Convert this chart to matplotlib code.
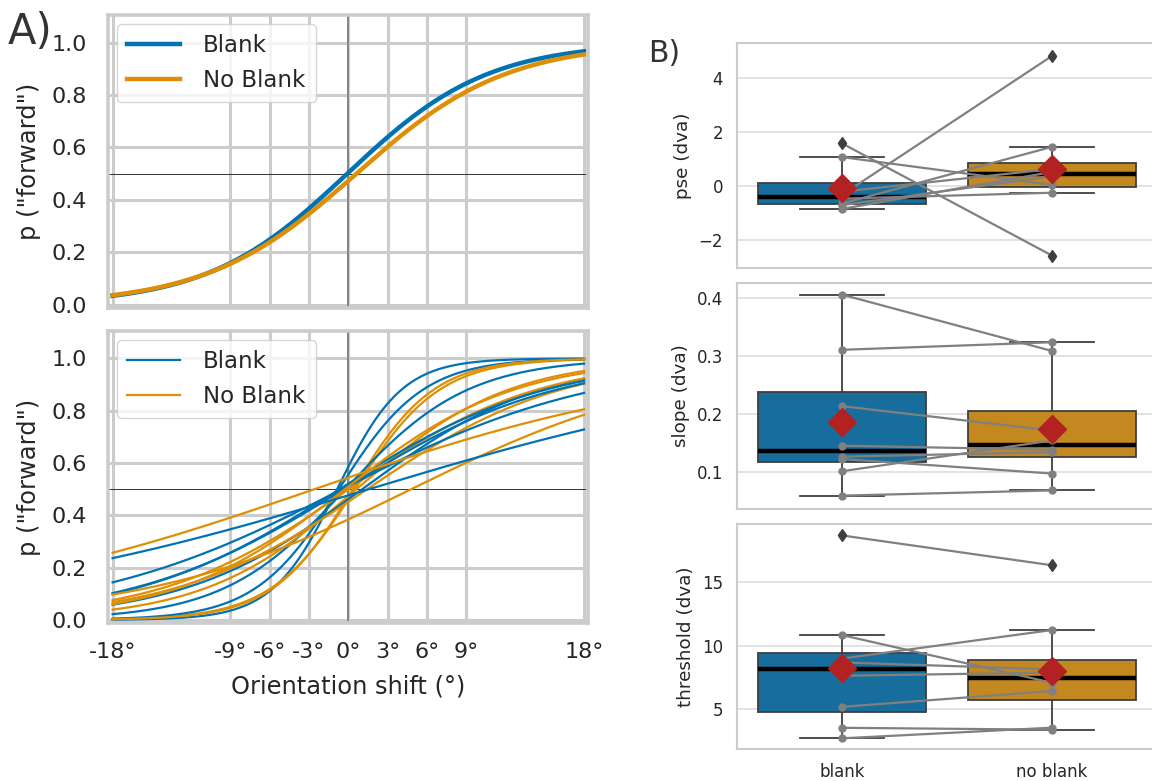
import numpy as np
import matplotlib
matplotlib.use('Agg')
import matplotlib.pyplot as plt
import colorsys
from matplotlib.colors import to_rgb

# ---------------- data ----------------
conditions = ['blank', 'no blank']
legend_labels = ['Blank', 'No Blank']

# per-subject logistic fit parameters (8 subjects)
pse_blank = [-0.86, -0.72, -0.22, 1.06, -0.66, -0.34, -0.48, 1.57]
pse_noblank = [0.51, 0.35, 0.62, 0.03, 1.44, 4.81, -0.26, -2.59]
slope_blank = [0.406, 0.311, 0.214, 0.146, 0.127, 0.123, 0.102, 0.060]
slope_noblank = [0.309, 0.324, 0.172, 0.139, 0.135, 0.098, 0.155, 0.069]
threshold_blank = [2.72, 3.55, 5.20, 7.65, 8.70, 9.00, 10.85, 18.70]
threshold_noblank = [3.56, 3.40, 6.45, 7.90, 8.15, 11.25, 7.10, 16.35]

xtick_values = [-18, -9, -6, -3, 0, 3, 6, 9, 18]
xtick_labels = ['-18°', '-9°', '-6°', '-3°', '0°', '3°', '6°', '9°', '18°']
ytick_values_left = [0.0, 0.2, 0.4, 0.6, 0.8, 1.0]

# ---------------- style ----------------
blue = '#0173b2'
orange = '#de8f05'
text_col = '#262626'


def desaturate(c, prop):
    h, l, s = colorsys.rgb_to_hls(*to_rgb(c))
    return colorsys.hls_to_rgb(h, l, s * prop)


box_colors = [desaturate(blue, 0.75), desaturate(orange, 0.75)]

plt.rcParams['font.family'] = ['DejaVu Sans']
plt.rcParams['text.color'] = text_col
plt.rcParams['axes.labelcolor'] = text_col
plt.rcParams['xtick.color'] = text_col
plt.rcParams['ytick.color'] = text_col

W, H = 1152, 781
fig = plt.figure(figsize=(W / 100, H / 100), dpi=100)


def fax(x0, y0, x1, y1):
    return fig.add_axes([x0 / W, 1 - y1 / H, (x1 - x0) / W, (y1 - y0) / H])


def logistic(x, pse, slope):
    return 1.0 / (1.0 + np.exp(-slope * (x - pse)))


xs = np.linspace(-18, 18, 400)

ax_top = fax(108, 15, 588, 308)
ax_bot = fax(108, 331, 588, 623)

for ax in (ax_top, ax_bot):
    ax.set_xlim(-18.35, 18.3)
    ax.set_ylim(-0.012, 1.105)
    ax.set_xticks(xtick_values)
    ax.set_yticks(ytick_values_left)
    ax.set_yticklabels([f'{v:.1f}' for v in ytick_values_left])
    ax.grid(True, color='#cccccc', lw=2.2)
    ax.set_axisbelow(True)
    for sp in ax.spines.values():
        sp.set_color('#cccccc')
        sp.set_linewidth(2.6)
    ax.tick_params(axis='both', length=0, labelsize=16)
    ax.tick_params(axis='y', pad=15)
    ax.tick_params(axis='x', pad=14)
    ax.axvline(0, color='#808080', lw=1.3, zorder=1.5)
    ax.axhline(0.5, color='#333333', lw=0.7, zorder=1.5)
    ax.set_ylabel('p ("forward")', fontsize=17.4, labelpad=8)

ax_top.set_xticklabels([])
ax_bot.set_xticklabels(xtick_labels)
ax_bot.set_xlabel('Orientation shift (°)', fontsize=17.4, labelpad=9)

# top: group mean fits
ax_top.plot(xs, logistic(xs, np.mean(pse_blank), np.mean(slope_blank)), color=blue, lw=3.2, label=legend_labels[0])
ax_top.plot(xs, logistic(xs, np.mean(pse_noblank), np.mean(slope_noblank)), color=orange, lw=3.2, label=legend_labels[1])

# bottom: individual fits
for i in range(len(pse_blank)):
    ax_bot.plot(xs, logistic(xs, pse_blank[i], slope_blank[i]), color=blue, lw=1.6,
                label=legend_labels[0] if i == 0 else None)
    ax_bot.plot(xs, logistic(xs, pse_noblank[i], slope_noblank[i]), color=orange, lw=1.6,
                label=legend_labels[1] if i == 0 else None)

for ax in (ax_top, ax_bot):
    leg = ax.legend(loc='upper left', fontsize=16.5, frameon=True, borderpad=0.45,
                    labelspacing=0.5, handlelength=2.3, handletextpad=1.0,
                    borderaxespad=0.4, framealpha=0.8)
    leg.get_frame().set_edgecolor('#cccccc')

fig.text(8 / W, 1 - 44 / H, 'A)', fontsize=30, color='#333333', va='baseline', ha='left')

# ---------------- right panels ----------------
ax_pse = fax(737, 43, 1157, 268)
ax_slope = fax(737, 283, 1157, 509)
ax_thr = fax(737, 524, 1157, 749)

panels = [
    (ax_pse, pse_blank, pse_noblank, 'pse (dva)', (-3.05, 5.29), [-2, 0, 2, 4]),
    (ax_slope, slope_blank, slope_noblank, 'slope (dva)', (0.037, 0.426), [0.1, 0.2, 0.3, 0.4]),
    (ax_thr, threshold_blank, threshold_noblank, 'threshold (dva)', (1.88, 19.6), [5, 10, 15]),
]

edge = '#3f3f3f'
for ax, b, nb, lab, yl, yt in panels:
    bp = ax.boxplot([b, nb], positions=[0, 1], widths=0.8, patch_artist=True, whis=1.5,
                    medianprops=dict(color='black', lw=3.2, solid_capstyle='butt'),
                    boxprops=dict(edgecolor=edge, lw=1.3),
                    whiskerprops=dict(color=edge, lw=1.3),
                    capprops=dict(color=edge, lw=1.3),
                    flierprops=dict(marker='d', markerfacecolor=edge, markeredgecolor=edge,
                                    markersize=6.2))
    for patch, c in zip(bp['boxes'], box_colors):
        patch.set_facecolor(c)
    for fl in bp['fliers']:
        fl.set_zorder(4)
    for i in range(len(b)):
        ax.plot([0, 1], [b[i], nb[i]], color='#808080', marker='o', ms=5, lw=1.6, zorder=3)
    ax.plot([0, 1], [np.mean(b), np.mean(nb)], linestyle='none', marker='D', color='#b22222',
            ms=14, zorder=5)
    ax.set_xlim(-0.5, 1.5)
    ax.set_ylim(*yl)
    ax.set_yticks(yt)
    ax.yaxis.grid(True, color='#dddddd', lw=1.2)
    ax.xaxis.grid(False)
    ax.set_axisbelow(True)
    for sp in ax.spines.values():
        sp.set_color('#cccccc')
        sp.set_linewidth(1.5)
    ax.tick_params(axis='both', length=0, labelsize=12, pad=10)
    ax.set_ylabel(lab, fontsize=13.2, labelpad=5)
    ax.set_xticks([0, 1])
    ax.set_xticklabels([])

ax_thr.set_xticklabels(conditions)

fig.text(648 / W, 1 - 62 / H, 'B)', fontsize=21.5, color='#333333', va='baseline', ha='left')

fig.savefig('out.png', dpi=100)
